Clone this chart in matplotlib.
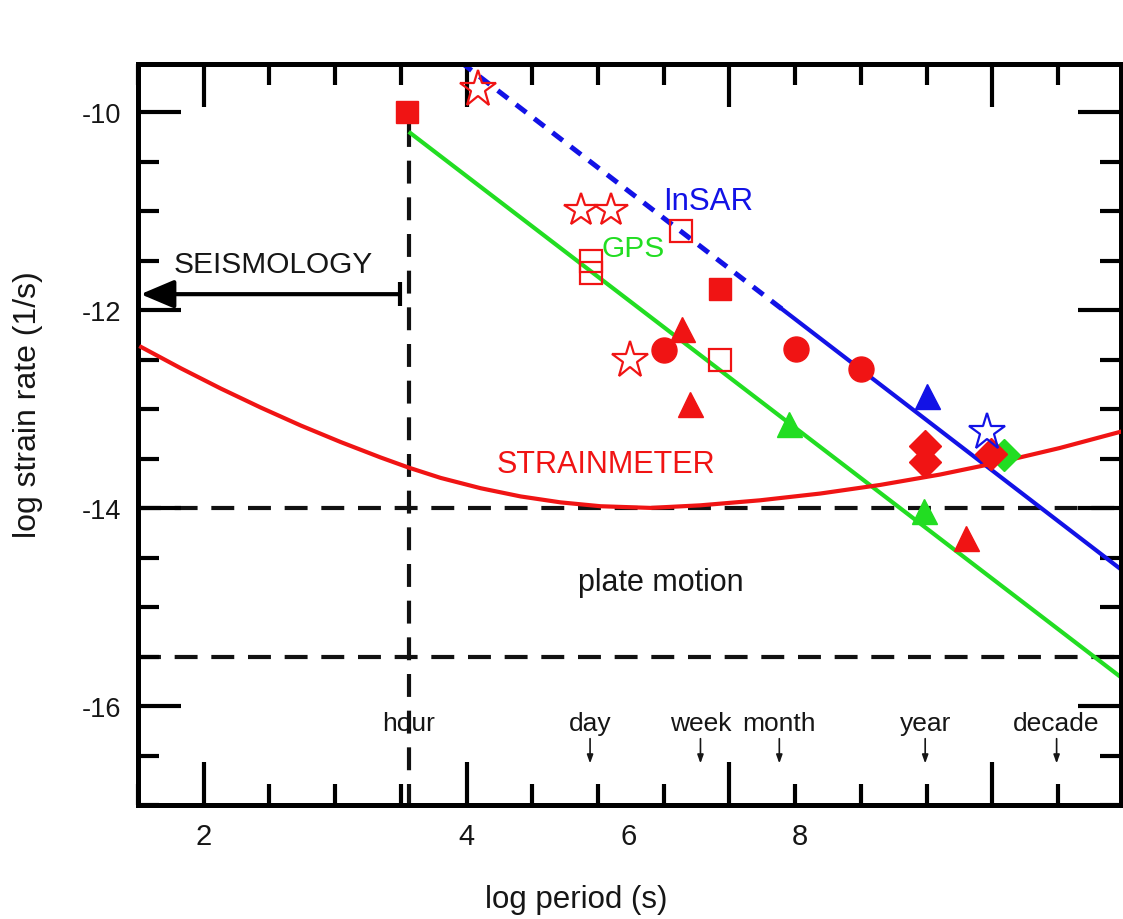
import matplotlib
matplotlib.use('Agg')
import matplotlib.pyplot as plt
from matplotlib.ticker import MultipleLocator, FixedLocator

# ---------------- data ----------------
gps_x = [3.56, 8.98]
gps_y = [-10.20, -15.71]
insar_dash_x = [3.96, 6.40]
insar_dash_y = [-9.50, -11.99]
insar_solid_x = [6.40, 8.98]
insar_solid_y = [-11.99, -14.62]
strain_x = [1.524, 1.828, 2.131, 2.435, 2.739, 3.043, 3.347, 3.560, 3.803, 4.107, 4.411,
            4.715, 5.019, 5.399, 5.779, 6.235, 6.691, 7.147, 7.603, 8.058, 8.514, 8.993]
strain_y = [-12.374, -12.590, -12.794, -12.986, -13.167, -13.334, -13.490, -13.592, -13.696,
            -13.800, -13.883, -13.943, -13.982, -13.999, -13.973, -13.922, -13.854, -13.767,
            -13.662, -13.537, -13.394, -13.224]
hour_x = 3.56
hour_top = -10.12
plate_y = [-14.0, -15.5]
seis_y = -11.84
seis_from = 3.49
seis_to = 1.52

red_fsq_x = [3.55, 5.93]
red_fsq_y = [-10.00, -11.79]
red_osq_x = [4.945, 4.945, 5.63, 5.93]
red_osq_y = [-11.50, -11.63, -11.20, -12.50]
red_star_x = [4.09, 4.87, 5.10, 5.24]
red_star_y = [-9.77, -10.99, -10.99, -12.51]
red_circ_x = [5.50, 6.51, 7.00]
red_circ_y = [-12.40, -12.39, -12.60]
red_tri_x = [5.64, 5.70, 7.80]
red_tri_y = [-12.19, -12.95, -14.30]
green_tri_x = [6.45, 7.48]
green_tri_y = [-13.15, -14.03]
blue_tri_x = [7.50]
blue_tri_y = [-12.87]
green_dia_x = [8.09]
green_dia_y = [-13.46]
red_dia_x = [7.49, 7.49, 7.99]
red_dia_y = [-13.37, -13.54, -13.45]
blue_star_x = [7.96]
blue_star_y = [-13.23]

time_labels = ['hour', 'day', 'week', 'month', 'year', 'decade']
time_x = [3.56, 4.94, 5.78, 6.38, 7.49, 8.49]
time_label_y = -16.17
time_arrow_y = [-16.33, -16.58]

xtick_major = [2, 4, 6, 8]
xtick_label_pos = [2.0, 4.0, 5.23, 6.54]
xtick_labels = ['2', '4', '6', '8']
ytick_major = [-10, -12, -14, -16]
ytick_labels = ['-10', '-12', '-14', '-16']

# ---------------- style ----------------
RED = '#f01414'
GREEN = '#22dd22'
BLUE = '#1212e6'
TXT = ['Liberation Sans', 'DejaVu Sans']
NARROW = ['Liberation Sans Narrow', 'Liberation Sans', 'DejaVu Sans']

fig = plt.figure(figsize=(11.23, 9.2), dpi=100)
ax = fig.add_axes([138 / 1123, 1 - 806 / 920, (1121 - 138) / 1123, (806 - 65) / 920])
ax.set_xlim(1.5, 8.98)
ax.set_ylim(-17.0, -9.515)

# reference dashed lines
dash_kw = dict(color='#111111', lw=3.0, dashes=(5.5, 3.3), zorder=1)
for yv in plate_y:
    ax.axhline(yv, **dash_kw)
ax.plot([hour_x, hour_x], [hour_top, -17.0], **dash_kw)

# lines
ax.plot(gps_x, gps_y, color=GREEN, lw=3.0, zorder=2, solid_capstyle='butt')
ax.plot(insar_dash_x, insar_dash_y, color=BLUE, lw=3.6, dashes=(2.6, 2.0), zorder=2)
ax.plot(insar_solid_x, insar_solid_y, color=BLUE, lw=3.0, zorder=2)
ax.plot(strain_x, strain_y, color=RED, lw=3.0, zorder=3, solid_joinstyle='round')

# seismology arrow
ax.annotate('', xy=(seis_to, seis_y), xytext=(seis_from, seis_y),
            arrowprops=dict(arrowstyle='-|>,head_length=0.85,head_width=0.36',
                            mutation_scale=24, lw=3.0, color='black',
                            shrinkA=0, shrinkB=0), zorder=4)
ax.plot([seis_from, seis_from], [seis_y + 0.12, seis_y - 0.12], color='black', lw=3.0,
        solid_capstyle='butt', zorder=4)

# markers
mk = dict(linestyle='none', zorder=5)
ax.plot(green_dia_x, green_dia_y, marker='D', ms=16, color=GREEN, mec=GREEN, **mk)
ax.plot(red_fsq_x, red_fsq_y, marker='s', ms=16, color=RED, mec=RED, **mk)
ax.plot(red_osq_x, red_osq_y, marker='s', ms=16, mfc='none', mec=RED, mew=1.6, **mk)
ax.plot(red_star_x[:1], red_star_y[:1], marker='*', ms=28, mfc='none', mec=RED, mew=1.6, **mk)
ax.plot(red_star_x[1:3], red_star_y[1:3], marker='*', ms=25, mfc='none', mec=RED, mew=1.6, **mk)
ax.plot(red_star_x[3:], red_star_y[3:], marker='*', ms=28, mfc='none', mec=RED, mew=1.6, **mk)
ax.plot(red_circ_x, red_circ_y, marker='o', ms=18, color=RED, mec=RED, **mk)
ax.plot(red_tri_x, red_tri_y, marker='^', ms=18, color=RED, mec=RED, **mk)
ax.plot(green_tri_x, green_tri_y, marker='^', ms=18, color=GREEN, mec=GREEN, **mk)
ax.plot(blue_tri_x, blue_tri_y, marker='^', ms=18, color=BLUE, mec=BLUE, **mk)
ax.plot(red_dia_x, red_dia_y, marker='D', ms=16, color=RED, mec=RED, **mk)
ax.plot(blue_star_x, blue_star_y, marker='*', ms=28, mfc='none', mec=BLUE, mew=1.6, **mk)

# text annotations
ax.text(5.84, -10.90, 'InSAR', color=BLUE, fontsize=22.5, family=TXT, ha='center', va='center', zorder=6)
ax.text(5.27, -11.37, 'GPS', color=GREEN, fontsize=21.5, family=TXT, ha='center', va='center', zorder=6)
ax.text(5.06, -13.56, 'STRAINMETER', color=RED, fontsize=22, family=TXT, ha='center', va='center', zorder=6)
ax.text(5.48, -14.75, 'plate motion', color='#161616', fontsize=22, family=TXT, ha='center', va='center', zorder=6)
ax.text(2.53, -11.54, 'SEISMOLOGY', color='#161616', fontsize=21.5, family=TXT, ha='center', va='center', zorder=6)

for i, (lab, xv) in enumerate(zip(time_labels, time_x)):
    ax.text(xv, time_label_y, lab, color='#161616', fontsize=19, family=TXT,
            ha='center', va='center', zorder=0)
    if i > 0:
        ax.annotate('', xy=(xv, time_arrow_y[1]), xytext=(xv, time_arrow_y[0]),
                    arrowprops=dict(arrowstyle='-|>,head_length=0.5,head_width=0.18',
                                    mutation_scale=10, lw=1.2, color='#161616',
                                    shrinkA=0, shrinkB=0))

# axes styling
for sp in ax.spines.values():
    sp.set_linewidth(3.6)
    sp.set_color('black')

ax.xaxis.set_major_locator(FixedLocator(xtick_major))
ax.xaxis.set_minor_locator(MultipleLocator(0.5))
ax.yaxis.set_major_locator(FixedLocator(ytick_major))
ax.yaxis.set_minor_locator(MultipleLocator(0.5))
ax.tick_params(which='both', direction='in', top=True, right=True, width=3.0, color='black')
ax.tick_params(which='major', length=31)
ax.tick_params(which='minor', length=15)
ax.tick_params(axis='x', which='both', labelbottom=False)
ax.set_yticks(ytick_major, ytick_labels)
ax.tick_params(axis='y', which='major', labelsize=19.5, pad=12)
for t in ax.get_yticklabels():
    t.set_family(NARROW)
    t.set_color('#161616')

sec = ax.secondary_xaxis('bottom')
sec.set_xticks(xtick_label_pos, xtick_labels)
sec.tick_params(length=0, labelsize=21, pad=12)
sec.spines['bottom'].set_visible(False)
for t in sec.get_xticklabels():
    t.set_family(NARROW)
    t.set_color('#161616')

ax.set_xlabel('log period (s)', fontsize=22.5, family=NARROW, color='#161616')
ax.xaxis.set_label_coords((576 - 138) / 983, (806 - 900) / 741)
ax.xaxis.label.set_va('center')
ax.set_ylabel('log strain rate (1/s)', fontsize=23, family=NARROW, color='#161616')
ax.yaxis.set_label_coords((28 - 138) / 983, (806 - 405) / 741)
ax.yaxis.label.set_va('center')

fig.savefig('out.png', dpi=100)
